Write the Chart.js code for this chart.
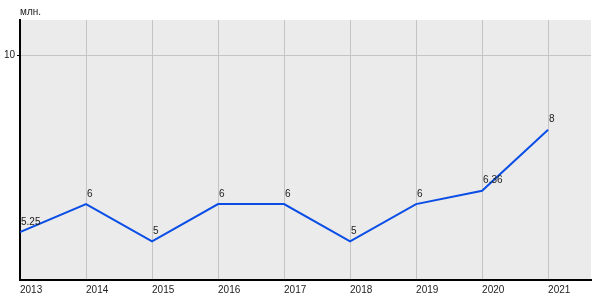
<!DOCTYPE html>
<html>
<head>
<meta charset="utf-8">
<script src="https://cdn.jsdelivr.net/npm/chart.js@4"></script>
<style>
  html, body { margin: 0; padding: 0; background: #fff; }
  #wrap { width: 600px; height: 300px; }
</style>
</head>
<body>
<div id="wrap"><canvas id="chartCanvas"></canvas></div>
<script>
const years = [2013, 2014, 2015, 2016, 2017, 2018, 2019, 2020, 2021];
const values = [5.25, 6, 5, 6, 6, 5, 6, 6.36, 8];
const valueLabels = ["5.25", "6", "5", "6", "6", "5", "6", "6.36", "8"];
const yTicks = [10];
const unitLabel = "млн.";

const ctx = document.getElementById("chartCanvas").getContext("2d");

// grey plot background + unit caption + point labels
const decorPlugin = {
    id: "decor",
    beforeDraw(chart) {
        const a = chart.chartArea;
        const c = chart.ctx;
        c.save();
        c.fillStyle = "#ebebeb";
        c.fillRect(a.left, a.top, a.right - a.left, a.bottom - a.top);
        c.fillStyle = "#222";
        c.font = "10px 'Liberation Sans', Arial, sans-serif";
        c.textBaseline = "middle";
        c.textAlign = "left";
        c.fillText(unitLabel, a.left, 12);
        c.restore();
    },
    afterDatasetsDraw(chart) {
        const c = chart.ctx;
        const meta = chart.getDatasetMeta(0);
        c.save();
        c.fillStyle = "#222";
        c.font = "10px 'Liberation Sans', Arial, sans-serif";
        c.textAlign = "left";
        c.textBaseline = "middle";
        meta.data.forEach((pt, i) => {
            c.fillText(valueLabels[i], pt.x + 1, pt.y - 10);
        });
        c.restore();
    }
};

new Chart(ctx, {
    type: "line",
    data: {
        datasets: [{
            data: years.map((y, i) => ({ x: y, y: values[i] })),
            borderColor: "#0a4ee6",
            borderWidth: 2,
            pointRadius: 0,
            tension: 0,
            fill: false
        }]
    },
    options: {
        responsive: true,
        maintainAspectRatio: false,
        animation: false,
        layout: { padding: { top: 20, right: 9, left: 0, bottom: 0 } },
        plugins: {
            legend: { display: false },
            tooltip: { enabled: false }
        },
        scales: {
            x: {
                type: "linear",
                min: 2013,
                max: 2021.65,
                afterBuildTicks: axis => { axis.ticks = years.map(v => ({ value: v })); },
                afterFit: axis => { axis.height = 20; },
                grid: { color: "#c4c4c4", lineWidth: 1, drawTicks: false },
                border: { color: "#000", width: 2 },
                ticks: {
                    align: "start",
                    padding: 4,
                    color: "#222",
                    font: { family: "'Liberation Sans', Arial, sans-serif", size: 10 },
                    callback: v => String(v)
                }
            },
            y: {
                min: 3.96,
                max: 10.95,
                afterBuildTicks: axis => { axis.ticks = yTicks.map(v => ({ value: v })); },
                afterFit: axis => { axis.width = 20; },
                grid: { color: "#c4c4c4", lineWidth: 1, tickLength: 3, tickColor: "#000" },
                border: { color: "#000", width: 2 },
                ticks: {
                    padding: 2,
                    color: "#222",
                    font: { family: "'Liberation Sans', Arial, sans-serif", size: 10 }
                }
            }
        }
    },
    plugins: [decorPlugin]
});
</script>
</body>
</html>
